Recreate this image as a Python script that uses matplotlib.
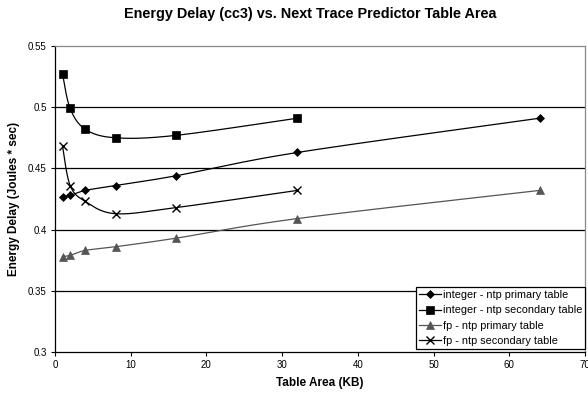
import numpy as np
import matplotlib
matplotlib.use("Agg")
import matplotlib.pyplot as plt
from matplotlib.lines import Line2D

plt.rcParams['font.family'] = ['Liberation Sans', 'DejaVu Sans']

x_int_primary = [1, 2, 4, 8, 16, 32, 64]
y_int_primary = [0.427, 0.428, 0.432, 0.436, 0.444, 0.463, 0.491]
x_int_secondary = [1, 2, 4, 8, 16, 32]
y_int_secondary = [0.527, 0.499, 0.482, 0.475, 0.477, 0.491]
x_fp_primary = [1, 2, 4, 8, 16, 32, 64]
y_fp_primary = [0.378, 0.379, 0.383, 0.386, 0.393, 0.409, 0.432]
x_fp_secondary = [1, 2, 4, 8, 16, 32]
y_fp_secondary = [0.468, 0.436, 0.423, 0.413, 0.418, 0.432]

labels = ["integer - ntp primary table", "integer - ntp secondary table",
          "fp - ntp primary table", "fp - ntp secondary table"]
xticks = [0, 10, 20, 30, 40, 50, 60, 70]
yticks = [0.3, 0.35, 0.4, 0.45, 0.5, 0.55]
ytick_labels = ['0.3', '0.35', '0.4', '0.45', '0.5', '0.55']


def smooth(xs, ys, n=30):
    # Excel-like smoothed line: cubic Bezier with Catmull-Rom control points
    xs = np.asarray(xs, float)
    ys = np.asarray(ys, float)
    P = np.column_stack([xs, ys])
    out = [P[0]]
    for i in range(len(P) - 1):
        p0 = P[i - 1] if i > 0 else P[i]
        p1 = P[i]
        p2 = P[i + 1]
        p3 = P[i + 2] if i + 2 < len(P) else P[i + 1]
        c1 = p1 + (p2 - p0) / 6.0
        c2 = p2 - (p3 - p1) / 6.0
        t = np.linspace(0, 1, n)[1:, None]
        seg = ((1 - t) ** 3) * p1 + 3 * ((1 - t) ** 2) * t * c1 + 3 * (1 - t) * t ** 2 * c2 + t ** 3 * p2
        out.extend(seg)
    out = np.array(out)
    return out[:, 0], out[:, 1]


fig = plt.figure(figsize=(5.88, 3.95), dpi=100)
ax = fig.add_axes([55 / 588, 1 - 352 / 395, (585 - 55) / 588, (352 - 46) / 395])

series = [
    (x_int_primary, y_int_primary, 'D', 'black', 4.5, labels[0]),
    (x_int_secondary, y_int_secondary, 's', 'black', 5.5, labels[1]),
    (x_fp_primary, y_fp_primary, '^', '#555555', 6, labels[2]),
    (x_fp_secondary, y_fp_secondary, 'x', 'black', 6, labels[3]),
]

for yv in [0.35, 0.4, 0.45, 0.5]:
    ax.axhline(yv, color='black', lw=0.9, zorder=1)

handles = []
for xs, ys, mk, col, ms, lab in series:
    sx, sy = smooth(xs, ys)
    ax.plot(sx, sy, color=col, lw=0.9, zorder=2)
    ax.plot(xs, ys, linestyle='none', marker=mk, color=col, markersize=ms,
            markeredgewidth=1.0 if mk == 'x' else 0.5, zorder=3)
    handles.append(Line2D([], [], color=col, lw=0.9, marker=mk, markersize=ms,
                          markeredgewidth=1.0 if mk == 'x' else 0.5, label=lab))

ax.set_xlim(0, 70)
ax.set_ylim(0.3, 0.55)
ax.set_xticks(xticks)
ax.set_yticks(yticks)
ax.set_xticklabels([str(v) for v in xticks], fontsize=7)
ax.set_yticklabels(ytick_labels, fontsize=7)
ax.tick_params(direction='out', length=3, width=0.8, pad=3, colors='black')

ax.spines['left'].set_color('black')
ax.spines['bottom'].set_color('black')
ax.spines['top'].set_color('#888888')
ax.spines['right'].set_color('#888888')
for s in ax.spines.values():
    s.set_linewidth(0.9)

ax.set_xlabel('Table Area (KB)', fontsize=8.5, fontweight='bold', labelpad=5)
ax.set_ylabel('Energy Delay (Joules * sec)', fontsize=8.5, fontweight='bold', labelpad=6)
fig.text(310 / 588, 1 - 14 / 395, 'Energy Delay (cc3) vs. Next Trace Predictor Table Area',
         ha='center', va='center', fontsize=10.4, fontweight='bold')

leg = ax.legend(handles=handles, loc='lower right', fontsize=7.8, frameon=True,
                fancybox=False, edgecolor='black', framealpha=1, handlelength=2.1,
                handletextpad=0.15, borderpad=0.25, labelspacing=0.5,
                borderaxespad=0.0, bbox_to_anchor=(1.0, 0.01))
leg.get_frame().set_linewidth(0.9)

fig.savefig('out.png', dpi=100)
